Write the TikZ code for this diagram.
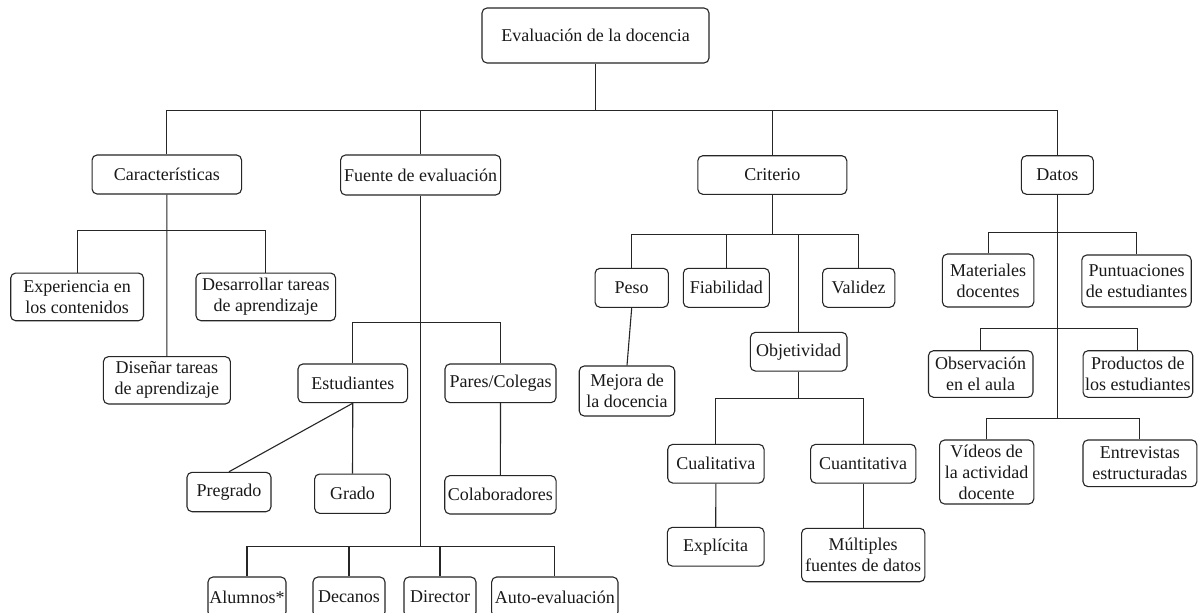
\documentclass[tikz,border=0pt]{standalone}
\usepackage{fontspec}
\setmainfont{Liberation Serif}
\begin{document}
\begin{tikzpicture}[x=1pt,y=-1pt,
  box/.style={draw=black!85, line width=1.1pt, rounded corners=5pt, fill=white,
    inner sep=0pt, align=center, font=\fontsize{18}{21}\selectfont, text=black!90},
  con/.style={draw=black!85, line width=1.1pt}]
\fill[white] (0,0) rectangle (1202,613);
\clip (0,0) rectangle (1202,613);
\newcommand{\bx}[6]{\node[box, minimum width=#4, minimum height=#5] (#1) at (#2,#3) {#6};}
% level 0
\bx{root}{595.5}{35.5}{227}{55}{Evaluación de la docencia}
% level 1
\bx{car}{166.8}{174.5}{149.5}{39}{Características}
\bx{fue}{420.6}{175}{160}{40}{Fuente de evaluación}
\bx{cri}{772.3}{175}{149}{38.6}{Criterio}
\bx{dat}{1057.4}{175}{72}{38.6}{Datos}
% Caracteristicas
\bx{exp}{77.1}{296.9}{132.8}{47.7}{Experiencia en\\los contenidos}
\bx{des}{265.8}{296.9}{139.6}{47.7}{Desarrollar tareas\\de aprendizaje}
\bx{dis}{166.9}{380.3}{127}{47.3}{Diseñar tareas\\de aprendizaje}
% Fuente
\bx{est}{352.8}{383.3}{109.6}{38.7}{Estudiantes}
\bx{par}{500.5}{383.3}{111}{38.7}{Pares/Colegas}
\bx{pre}{229}{492}{84}{39.4}{Pregrado}
\bx{gra}{352.5}{493.7}{75.8}{39.3}{Grado}
\bx{col}{500.4}{494.8}{111.3}{38.3}{Colaboradores}
\bx{alu}{247}{597}{78}{40}{Alumnos*}
\bx{dec}{349}{597}{72}{40}{Decanos}
\bx{dir}{440}{597}{72}{40}{Director}
\bx{aut}{554.8}{597}{126.3}{40}{Auto-evaluación}
% Criterio
\bx{pes}{631.7}{287.8}{73.3}{39}{Peso}
\bx{fia}{726.3}{287.8}{86}{39}{Fiabilidad}
\bx{val}{858.7}{287.8}{72.2}{39}{Validez}
\bx{mej}{627}{391}{95.5}{50}{Mejora de\\la docencia}
\bx{obj}{798.7}{351.7}{96.6}{38.7}{Objetividad}
\bx{cual}{715.9}{463.7}{96.3}{38.7}{Cualitativa}
\bx{cuan}{863.2}{463.7}{105.3}{38.7}{Cuantitativa}
\bx{expl}{715.7}{546.7}{96.7}{38.7}{Explícita}
\bx{mul}{863.2}{555}{123.3}{53.4}{Múltiples\\fuentes de datos}
% Datos
\bx{mat}{988.1}{280.5}{91.4}{53}{Materiales\\docentes}
\bx{pun}{1136.5}{281}{109.4}{52}{Puntuaciones\\de estudiantes}
\bx{obs}{980.7}{374}{104.5}{46.6}{Observación\\en el aula}
\bx{pro}{1137.9}{374}{109.7}{46.6}{Productos de\\los estudiantes}
\bx{vid}{986.7}{472}{94.2}{64}{Vídeos de\\la actividad\\docente}
\bx{ent}{1139.9}{463.3}{113.8}{46.7}{Entrevistas\\estructuradas}
% bar levels
\coordinate (y1) at (0,110.5);
\coordinate (yc) at (0,230.5);
\coordinate (yf) at (0,322.5);
\coordinate (yfb) at (0,546.5);
\coordinate (ycr) at (0,234.5);
\coordinate (yo) at (0,398.5);
\coordinate (yd1) at (0,232.5);
\coordinate (yd2) at (0,328.5);
\coordinate (yd3) at (0,418.5);
% root
\draw[con] (root.south) -- (root.south |- y1);
\draw[con] (car.north) -- (car.north |- y1) -- (dat.north |- y1) -- (dat.north);
\draw[con] (fue.north) -- (fue.north |- y1);
\draw[con] (cri.north) -- (cri.north |- y1);
% Caracteristicas
\draw[con] (car.south) -- (dis.north);
\draw[con] (exp.north) -- (exp.north |- yc) -- (des.north |- yc) -- (des.north);
% Fuente
\draw[con] (fue.south) -- (fue.south |- yfb);
\draw[con] (est.north) -- (est.north |- yf) -- (par.north |- yf) -- (par.north);
\draw[con] (est.south) -- (pre.north);
\draw[con] (est.south) -- (gra.north);
\draw[con] (par.south) -- (col.north);
\draw[con] (alu.north) -- (alu.north |- yfb) -- (aut.north |- yfb) -- (aut.north);
\draw[con] (dec.north) -- (dec.north |- yfb);
\draw[con] (dir.north) -- (dir.north |- yfb);
% Criterio
\draw[con] (cri.south) -- (cri.south |- ycr);
\draw[con] (pes.north) -- (pes.north |- ycr) -- (val.north |- ycr) -- (val.north);
\draw[con] (fia.north) -- (fia.north |- ycr);
\draw[con] (obj.north) -- (obj.north |- ycr);
\draw[con] (pes.south) -- (mej.north);
\draw[con] (obj.south) -- (obj.south |- yo);
\draw[con] (cual.north) -- (cual.north |- yo) -- (cuan.north |- yo) -- (cuan.north);
\draw[con] (cual.south) -- (expl.north);
\draw[con] (cuan.south) -- (mul.north);
% Datos
\draw[con] (dat.south) -- (dat.south |- yd3);
\draw[con] (mat.north) -- (mat.north |- yd1) -- (pun.north |- yd1) -- (pun.north);
\draw[con] (obs.north) -- (obs.north |- yd2) -- (pro.north |- yd2) -- (pro.north);
\draw[con] (vid.north) -- (vid.north |- yd3) -- (ent.north |- yd3) -- (ent.north);
\end{tikzpicture}
\end{document}
